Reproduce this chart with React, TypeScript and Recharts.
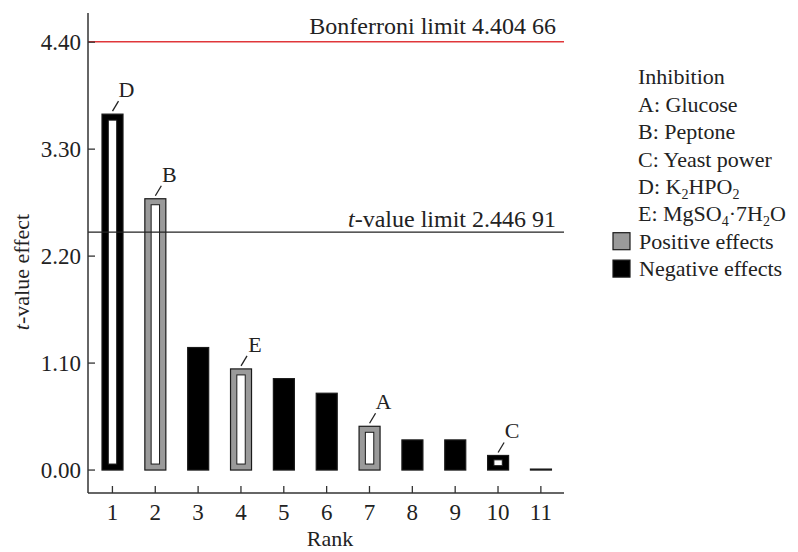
import { BarChart, Bar, XAxis, YAxis, ReferenceLine, LabelList } from 'recharts'

const ranks = [1, 2, 3, 4, 5, 6, 7, 8, 9, 10, 11]
const tValues = [3.66, 2.79, 1.26, 1.04, 0.94, 0.79, 0.45, 0.31, 0.31, 0.15, 0.01]
const effects = [
  'negative', 'positive', 'negative', 'positive', 'negative', 'negative',
  'positive', 'negative', 'negative', 'negative', 'negative',
]
const factors = ['D', 'B', '', 'E', '', '', 'A', '', '', 'C', '']
const yTicks = [0, 1.1, 2.2, 3.3, 4.4]
const bonferroniLimit = 4.40466
const tValueLimit = 2.44691
const legendTitle = 'Inhibition'
const legendFactors = ['A: Glucose', 'B: Peptone', 'C: Yeast power', 'D: K_2HPO_2', 'E: MgSO_4·7H_2O']
const legendEffects = [
  { name: 'Positive effects', color: '#9a9a9a' },
  { name: 'Negative effects', color: '#000' },
]

const data = ranks.map((rank, i) => ({
  rank,
  value: tValues[i],
  effect: effects[i],
  factor: factors[i],
}))

const FONT = '"Liberation Serif", "Times New Roman", serif'
const INK = '#222'

// "4.40466" -> "4.404 66"
const fmtLimit = (v: number) => {
  const s = v.toFixed(5)
  return s.slice(0, -2) + ' ' + s.slice(-2)
}

// digits after "_" become subscripts
function Formula({ text }: { text: string }) {
  const parts = text.split(/_(\d)/)
  return (
    <>
      {parts.map((p, i) =>
        i % 2 === 1 ? (
          <tspan key={i} dy={5} fontSize={14}>{p}</tspan>
        ) : (
          <tspan key={i} dy={i === 0 ? 0 : -5}>{p}</tspan>
        )
      )}
    </>
  )
}

function EffectBar(props: any) {
  const { x, y, width, height, payload } = props
  const fill = payload.effect === 'positive' ? '#9a9a9a' : '#000'
  const h = Math.max(height, 0.6)
  const inset = Math.min(6.5, width * 0.3)
  const vInset = Math.min(6, h * 0.3)
  return (
    <g>
      <rect x={x} y={y} width={width} height={h} fill={fill} stroke="#1a1a1a" strokeWidth={1.2} />
      {payload.factor && (
        <rect
          x={x + inset}
          y={y + vInset}
          width={width - 2 * inset}
          height={h - 2 * vInset}
          fill="#fff"
          stroke="#1a1a1a"
          strokeWidth={1}
        />
      )}
    </g>
  )
}

function FactorLabel(props: any) {
  const { x, y, width, value } = props
  if (!value) return null
  const cx = x + width / 2
  return (
    <g>
      <line x1={cx} y1={y - 3} x2={cx + 6} y2={y - 13} stroke={INK} strokeWidth={1.3} />
      <text x={cx + 14} y={y - 17} textAnchor="middle" fontFamily={FONT} fontSize={22} fill={INK}>
        {value}
      </text>
    </g>
  )
}

function LimitLabel({ viewBox, italicT, text, gap }: any) {
  return (
    <text
      x={viewBox.x + viewBox.width - 8}
      y={viewBox.y - gap}
      textAnchor="end"
      fontFamily={FONT}
      fontSize={24}
      fill={INK}
    >
      {italicT && <tspan fontStyle="italic">t</tspan>}
      {text}
    </text>
  )
}

const YLabel = ({ viewBox }: any) => (
  <text
    transform={`translate(${viewBox.x + 29}, ${viewBox.y + viewBox.height / 2 + 19}) rotate(-90)`}
    textAnchor="middle"
    fontFamily={FONT}
    fontSize={22}
    fill={INK}
  >
    <tspan fontStyle="italic">t</tspan>-value effect
  </text>
)

const XLabel = ({ viewBox }: any) => (
  <text
    x={viewBox.x + viewBox.width / 2 + 4}
    y={viewBox.y + viewBox.height - 6}
    textAnchor="middle"
    fontFamily={FONT}
    fontSize={22}
    fill={INK}
  >
    Rank
  </text>
)

const axisLine = { stroke: '#333', strokeWidth: 1.5 }
const tickStyle = { fontSize: 23, fill: INK, fontFamily: FONT }

function Legend() {
  const top = 84.3
  const step = 27.4
  const lines = [legendTitle, ...legendFactors]
  return (
    <svg width={198} height={300} style={{ position: 'absolute', left: 600, top: 0 }}>
      {lines.map((l, i) => (
        <text key={l} x={38} y={top + i * step} fontFamily={FONT} fontSize={22} fill={INK}>
          <Formula text={l} />
        </text>
      ))}
      {legendEffects.map((e, i) => {
        const base = top + (lines.length + i) * step
        return (
          <g key={e.name}>
            <rect x={13} y={base - 16} width={17} height={17} fill={e.color} stroke="#1a1a1a" strokeWidth={1.2} />
            <text x={39} y={base} fontFamily={FONT} fontSize={22} fill={INK}>
              {e.name}
            </text>
          </g>
        )
      })}
    </svg>
  )
}

export default function App() {
  return (
    <div style={{ position: 'absolute', left: 0, top: 0, width: 798, height: 552, background: '#fff' }}>
      <BarChart
        width={798}
        height={552}
        data={data}
        margin={{ top: 13, right: 234, bottom: 0, left: 0 }}
      >
        <XAxis
          dataKey="rank"
          type="number"
          domain={[0.43, 11.54]}
          ticks={ranks}
          height={59}
          tick={tickStyle}
          tickSize={-7}
          tickMargin={18}
          tickLine={{ stroke: '#333', strokeWidth: 1.3 }}
          axisLine={axisLine}
          label={<XLabel />}
        />
        <XAxis
          xAxisId="top"
          orientation="top"
          type="number"
          domain={[0, 1]}
          height={0}
          tick={false}
          tickLine={false}
          axisLine={axisLine}
        />
        <YAxis
          type="number"
          domain={[-0.236, 4.7]}
          ticks={yTicks}
          tickFormatter={(v: number) => v.toFixed(2)}
          width={88}
          tick={tickStyle}
          tickSize={-7}
          tickMargin={14}
          tickLine={{ stroke: '#333', strokeWidth: 1.3 }}
          axisLine={axisLine}
          label={<YLabel />}
        />
        <YAxis
          yAxisId="right"
          orientation="right"
          type="number"
          domain={[0, 1]}
          width={0}
          tick={false}
          tickLine={false}
          axisLine={axisLine}
        />
        <ReferenceLine
          y={bonferroniLimit}
          stroke="#e0373a"
          strokeWidth={1.5}
          label={<LimitLabel gap={8} text={`Bonferroni limit ${fmtLimit(bonferroniLimit)}`} />}
        />
        <ReferenceLine
          y={tValueLimit}
          stroke={INK}
          strokeWidth={1.3}
          label={<LimitLabel italicT gap={5} text={`-value limit ${fmtLimit(tValueLimit)}`} />}
        />
        <Bar dataKey="value" barSize={21} shape={<EffectBar />} isAnimationActive={false}>
          <LabelList dataKey="factor" content={<FactorLabel />} />
        </Bar>
      </BarChart>
      <Legend />
    </div>
  )
}
